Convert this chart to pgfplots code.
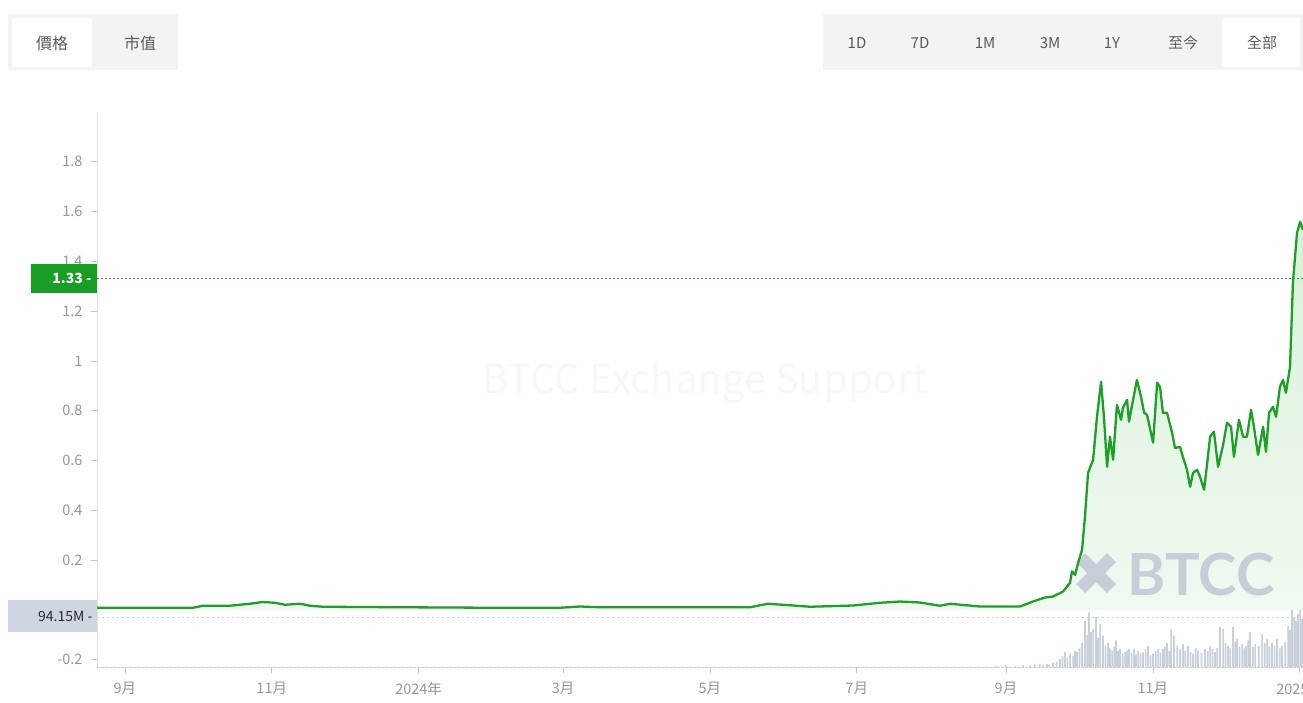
\documentclass[border=0pt]{standalone}
\usepackage{pgfplots}
\pgfplotsset{compat=1.18}
\usepackage{pgfplotstable}
\usepackage{fontspec}
\setmainfont{Noto Sans CJK TC}
\newfontfamily\symfont{DejaVu Sans}
\newfontfamily\logofont{Lato}

\definecolor{linegreen}{RGB}{30,160,40}
\definecolor{tagGreen}{RGB}{24,158,36}
\definecolor{tagGray}{RGB}{207,214,226}
\definecolor{ticktext}{RGB}{150,150,150}
\definecolor{btnbg}{RGB}{243,243,243}
\definecolor{btntext}{RGB}{90,90,90}
\definecolor{volbar}{RGB}{200,208,220}
\definecolor{logogray}{RGB}{200,206,215}
\definecolor{fillTop}{RGB}{218,241,218}
\definecolor{fillBot}{RGB}{240,249,240}

% days since 2023-09-01, price
\pgfplotstableread{
d v
-11.6 0.009
10.4 0.009
28.3 0.009
32.4 0.017
43.6 0.017
51.9 0.025
57.3 0.032
62.3 0.029
66.5 0.021
72.7 0.025
76.9 0.017
82.3 0.013
114.3 0.011
151.6 0.009
180.7 0.009
189.0 0.014
197.3 0.011
259.7 0.011
267.1 0.025
276.3 0.019
284.6 0.013
302.5 0.018
313.7 0.029
322.0 0.034
330.3 0.030
338.6 0.017
342.8 0.025
355.2 0.014
371.8 0.014
377.2 0.034
382.2 0.050
385.5 0.054
389.7 0.074
392.6 0.109
393.4 0.155
394.7 0.141
396.0 0.190
397.6 0.242
398.8 0.374
400.1 0.551
401.7 0.591
402.2 0.603
403.8 0.776
405.5 0.916
406.7 0.776
408.0 0.575
409.2 0.696
410.5 0.603
412.1 0.824
413.8 0.764
414.6 0.812
416.3 0.844
417.1 0.756
418.8 0.844
420.4 0.924
422.1 0.856
423.4 0.792
424.6 0.784
427.1 0.672
428.8 0.913
430.0 0.896
431.2 0.792
432.9 0.792
435.0 0.712
436.2 0.651
438.3 0.655
439.5 0.615
441.2 0.563
442.5 0.495
443.7 0.551
445.4 0.563
446.6 0.535
448.3 0.483
449.6 0.591
450.8 0.696
452.4 0.716
454.1 0.575
456.2 0.663
457.8 0.752
459.5 0.736
460.7 0.615
462.8 0.764
464.5 0.696
466.1 0.696
467.8 0.804
469.0 0.736
470.7 0.623
472.8 0.736
474.0 0.635
475.3 0.792
476.9 0.816
478.2 0.776
479.8 0.896
481.1 0.924
482.3 0.872
484.0 0.977
485.2 1.314
486.9 1.515
488.2 1.559
489.4 1.527
}\price

% volume, millions
\pgfplotstableread{
d m
362 2
366 3
370 2
373 4
376 3
378 5
380 6
381.5 4
383 6
384 5
385.5 8
387 10
388.4 15
389.5 20
390.5 28
391.5 18
392.6 25
393.9 21
394.7 30
395.5 28
396.5 35
397.6 46
398.8 87
399.7 60
400.5 103
401.3 66
402.2 72
403.4 94
404.2 55
405.1 81
406.3 59
407.3 40
408.4 46
409.2 35
410.1 31
411.0 38
411.7 50
412.5 30
413.4 34
414.5 25
415.5 28
416.3 30
417.1 34
418.2 27
419.2 34
420.0 24
420.9 31
421.9 26
422.9 28
424.0 33
425.0 40
426.0 22
427.1 25
428.2 30
429.2 34
430.2 27
431.2 34
432.0 38
432.9 46
433.8 30
434.6 72
435.8 59
437.1 40
438.3 33
439.5 43
440.5 30
441.6 40
442.7 28
443.7 25
444.8 35
445.8 31
447.2 27
448.7 34
449.8 30
450.8 40
451.8 34
452.8 28
453.8 36
454.9 75
456.2 72
457.2 45
458.2 40
459.2 35
460.3 75
461.2 48
462.0 53
463.0 38
464.1 43
465.0 35
465.7 40
466.6 50
467.4 65
468.5 38
469.5 43
471.0 40
472.4 62
473.5 45
474.5 53
475.5 38
476.5 46
477.6 40
478.6 53
479.7 35
480.7 40
482.0 48
483.2 78
484.0 70
484.8 112
485.7 95
486.5 87
487.3 100
488.2 109
489.0 90
}\volume

\pgfplotsset{
  base/.style={
    width=1206pt, height=555pt, scale only axis,
    at={(97pt,35pt)}, anchor=south west,
    xmin=-11.6, xmax=489.4,
  },
}

\begin{document}
\begin{tikzpicture}
% top buttons
\fill[btnbg] (8pt,632pt) rectangle (178pt,688pt);
\fill[white] (12pt,635pt) rectangle (92pt,684pt);
\node[font=\fontsize{16}{18}\selectfont, text=btntext] at (52pt,659pt) {價格};
\node[font=\fontsize{16}{18}\selectfont, text=btntext] at (140pt,659pt) {市值};
\fill[btnbg] (823pt,632pt) rectangle (1303pt,688pt);
\fill[white] (1222pt,635pt) rectangle (1300pt,684pt);
\foreach \t/\x in {1D/857, 7D/920, 1M/985, 3M/1050, 1Y/1112, 至今/1183, 全部/1262}
  \node[font=\fontsize{15}{18}\selectfont, text=btntext] at (\x pt,659pt) {\t};

% volume and area fill
\begin{axis}[base, hide axis, ymin=0, ymax=1045]
  \addplot[ybar, bar width=1.7pt, bar shift=0pt, draw=none, fill=volbar] table[x=d, y=m] {\volume};
  \addplot[draw={rgb,255:red,220;green,200;blue,210}, dash pattern=on 2pt off 3pt, line width=0.8pt] coordinates {(-11.6,94.15) (489.4,94.15)};
\end{axis}
\begin{axis}[base, hide axis, ymin=-0.229, ymax=2.0]
  \addplot[draw=none, top color=fillTop, bottom color=fillBot] table[x=d, y=v] {\price} \closedcycle;
\end{axis}

% watermarks
\node[font=\fontsize{40}{44}\selectfont, text={rgb,255:red,247;green,247;blue,247}] at (705pt,319pt) {BTCC Exchange Support};
\node[font=\symfont\fontsize{60}{64}\selectfont, text=logogray] at (1097pt,127pt) {✖};
\node[font=\logofont\bfseries\fontsize{58}{60}\selectfont, text=logogray, anchor=west] at (1124pt,127pt) {BTCC};

% price line and axes
\begin{axis}[base, ymin=-0.229, ymax=2.0,
  axis lines=left, axis line style={-, draw=gray!22},
  x axis line style={draw=gray!40, dash pattern=on 3pt off 1pt},
  tick align=outside, major tick length=6pt,
  tick style={draw=gray!45, line width=0.6pt},
  ytick={-0.2,0,0.2,0.4,0.6,0.8,1,1.2,1.4,1.6,1.8},
  yticklabels={-0.2,,0.2,0.4,0.6,0.8,1,1.2,1.4,1.6,1.8},
  xtick={0,61,122,182,243,304,366,427,488},
  xticklabels={9月,11月,2024年,3月,5月,7月,9月,11月,2025年},
  ticklabel style={font=\fontsize{14.5}{16}\selectfont, text=ticktext},
  yticklabel style={xshift=-5pt},
  xticklabel style={yshift=-6pt},
  /pgf/number format/assume math mode=true,
  clip=false,
]
  \addplot[linegreen, dash pattern=on 2pt off 2pt, line width=0.8pt] coordinates {(-11.6,1.33) (489.4,1.33)};
  \addplot[linegreen, line width=2.3pt, line join=round] table[x=d, y=v] {\price};
\end{axis}

% price tags
\fill[tagGreen] (31pt,409pt) rectangle (97pt,438pt);
\node[font=\bfseries\fontsize{14}{16}\selectfont, text=white, anchor=east] at (95pt,423.5pt) {1.33 -};
\fill[tagGray] (8pt,70pt) rectangle (97pt,102pt);
\node[font=\fontsize{14}{16}\selectfont, text={rgb,255:red,40;green,40;blue,50}, anchor=east] at (96pt,86pt) {94.15M -};

\pgfresetboundingbox
\path (0pt,0pt) rectangle (1303pt,702pt);
\end{tikzpicture}
\end{document}
